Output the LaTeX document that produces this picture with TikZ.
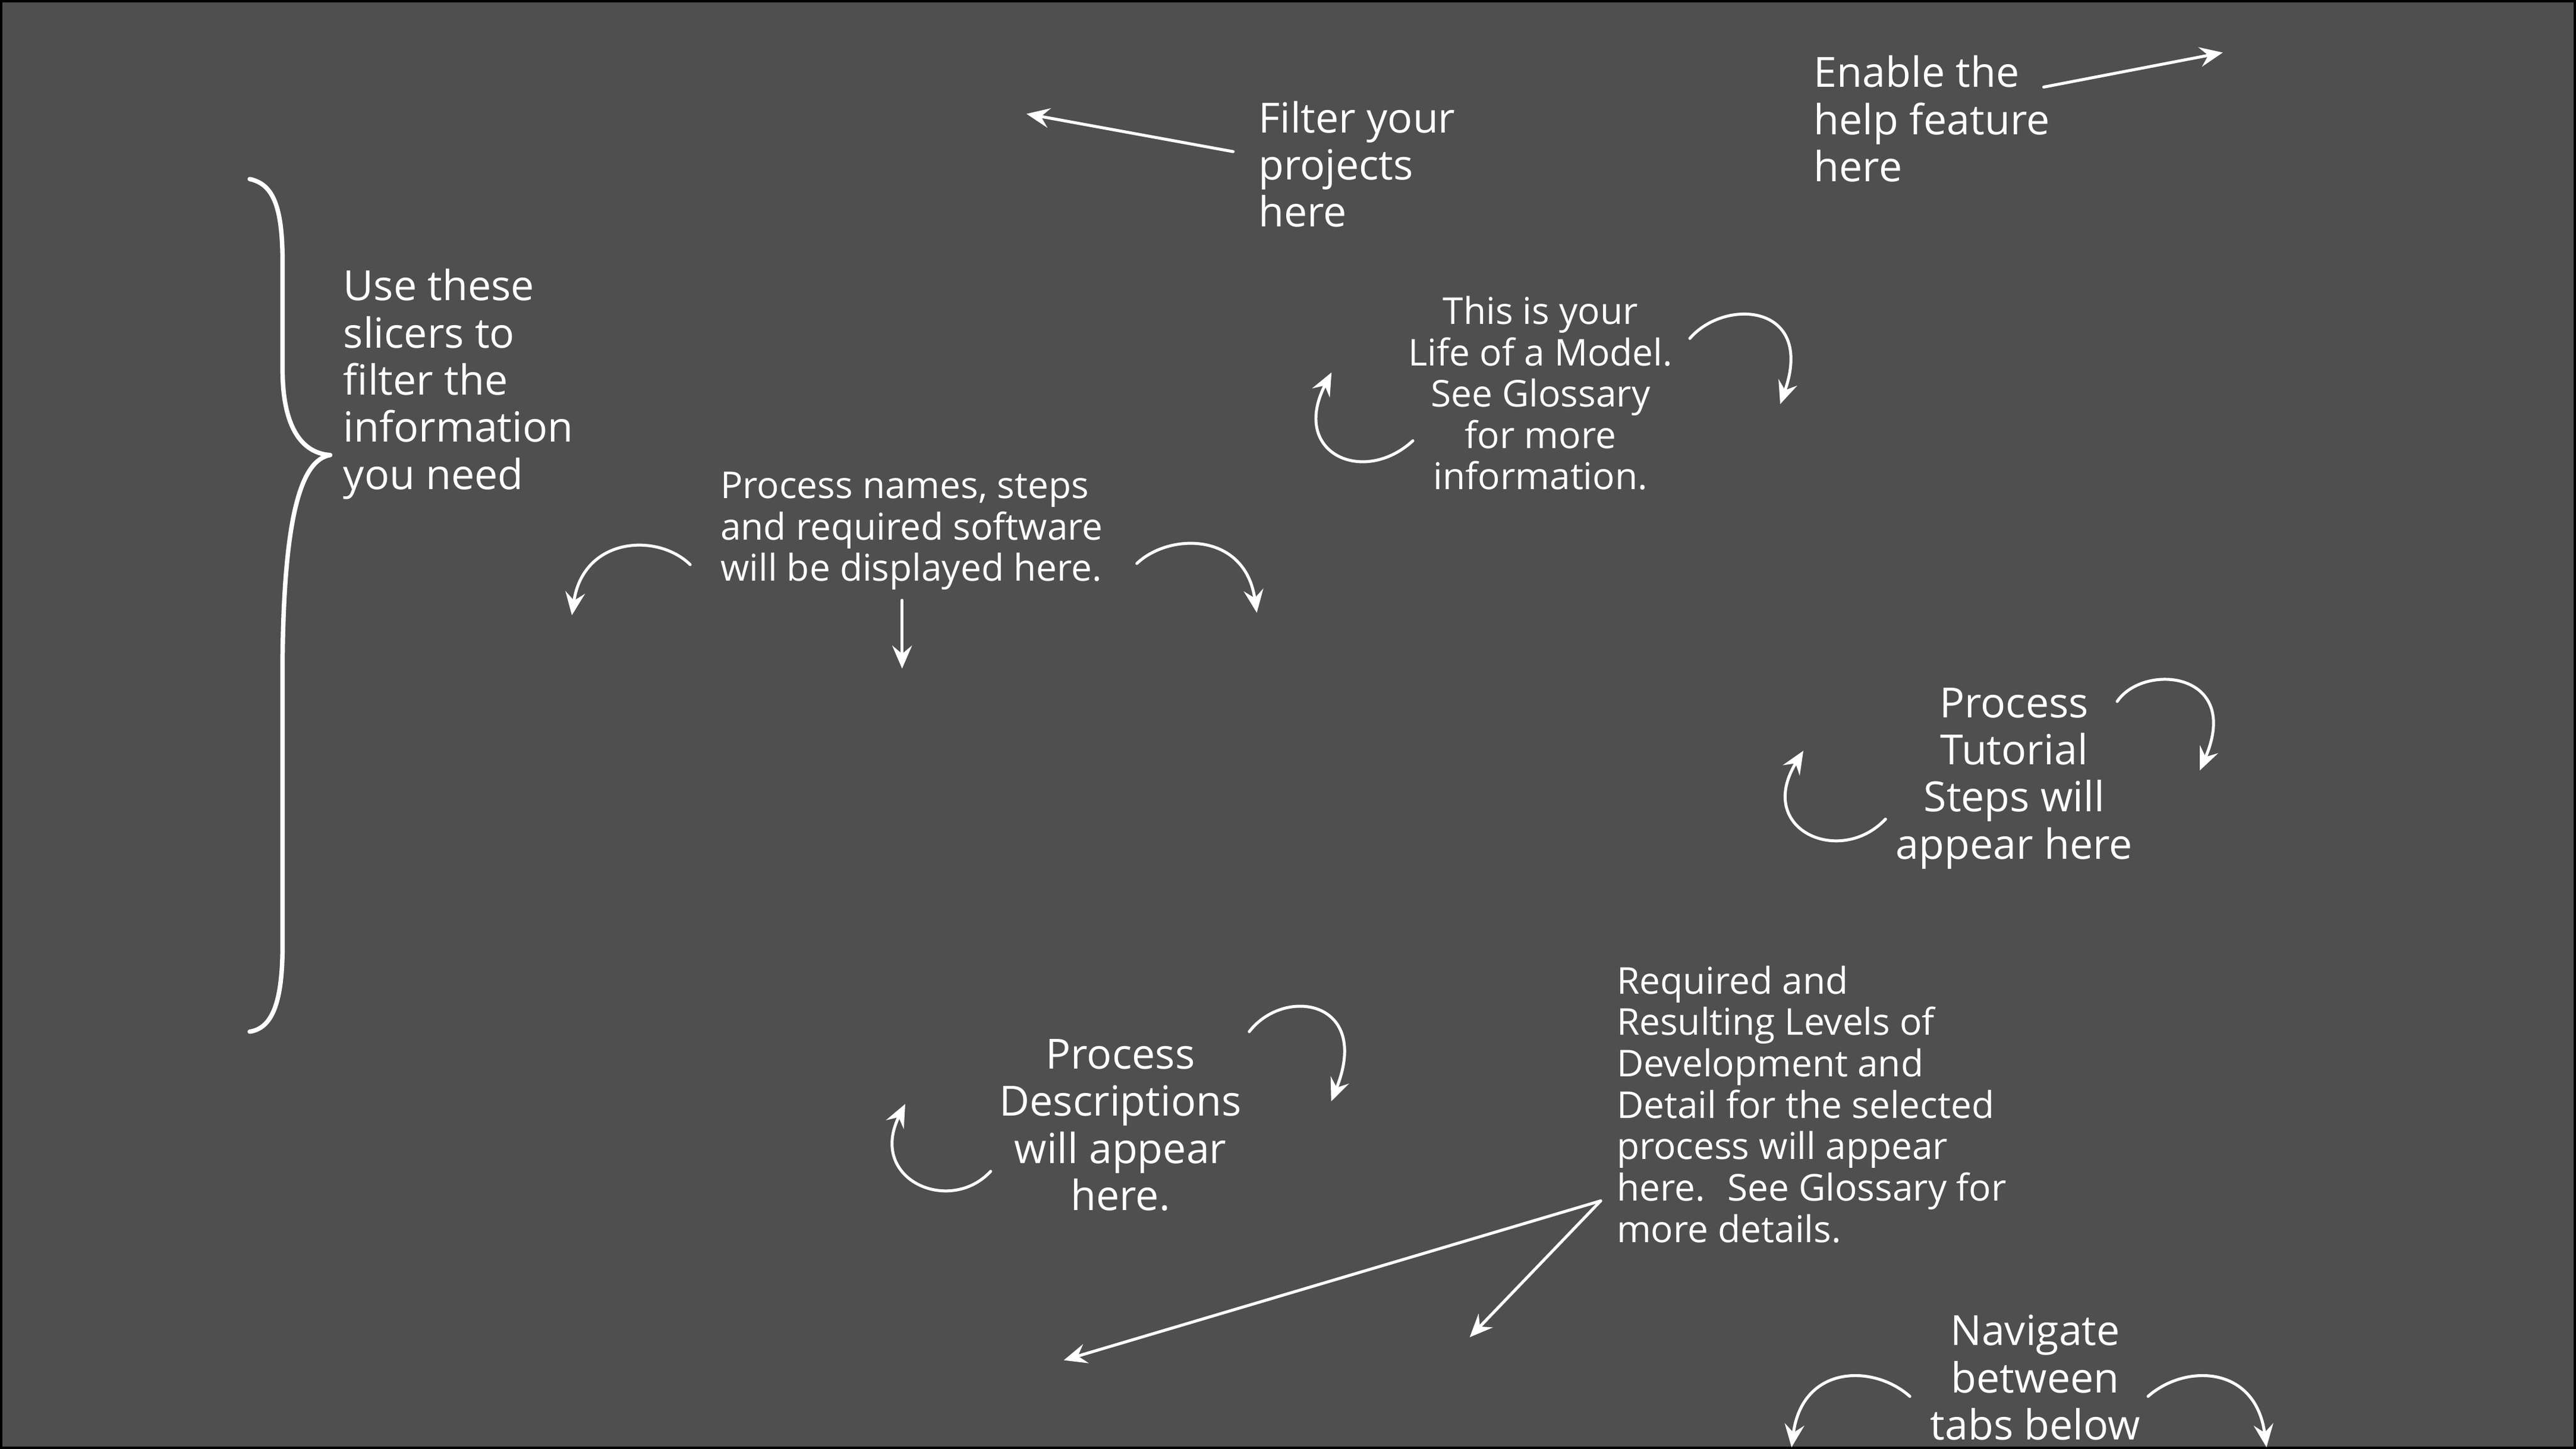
\documentclass[tikz,border=0pt]{standalone}
\usepackage{fontspec}
\setmainfont{Open Sans}
\usetikzlibrary{arrows.meta}
\definecolor{bg}{HTML}{4F4F4F}
\begin{document}
\begin{tikzpicture}[x=1mm,y=-1mm,
  bigtext/.style={font=\fontsize{72pt}{81.7pt}\selectfont, text=white, inner sep=0pt},
  smalltext/.style={font=\fontsize{64pt}{71.7pt}\selectfont, text=white, inner sep=0pt},
  arr/.style={draw=white, line width=1.8mm, line cap=round, -{Stealth[length=14mm,width=12mm,inset=5mm]}},
  bracestyle/.style={draw=white, line width=2.7mm, line cap=round, line join=round}
]
\useasboundingbox (0,0) rectangle (1568,882);
\fill[black] (0,0) rectangle (1568,882);
\fill[bg] (1.3,1.3) rectangle (1566.7,880.7);

% brace
\draw[bracestyle] (152,109) .. controls (166,112) and (172,125) .. (172,160) -- (172,225)
  .. controls (172,262) and (185,276) .. (201,277)
  .. controls (183,280) and (173,315) .. (172,400) -- (172,575)
  .. controls (172,612) and (165,626) .. (152,628);

% texts
\node[bigtext, anchor=north west, align=left] (filter) at (766,60.6) {\strut Filter your\\projects\\here};
\node[bigtext, anchor=north west, align=left] (enable) at (1104,33) {\strut Enable the\\help feature\\here};
\node[bigtext, anchor=north west, align=left] (slicers) at (209,162.8) {\strut Use these\\slicers to\\filter the\\information\\you need};
\node[smalltext, anchor=north west, align=left] (procnames) at (438.5,285.7) {\strut Process names, steps\\and required software\\will be displayed here.};
\node[smalltext, anchor=north, align=center] (lifemodel) at (937.7,179.6) {\strut This is your\\Life of a Model.\\See Glossary\\for more\\information.};
\node[bigtext, anchor=north, align=center] (tutorial) at (1226,416.6) {\strut Process\\Tutorial\\Steps will\\appear here};
\node[bigtext, anchor=north, align=center] (descr) at (682,630.5) {\strut Process\\Descriptions\\will appear\\here.};
\node[smalltext, anchor=north west, align=left] (levels) at (984,587.3) {\strut Required and\\Resulting Levels of\\Development and\\Detail for the selected\\process will appear\\here.~ See Glossary for\\more details.};
\node[bigtext, anchor=north, align=center] (navigate) at (1238.8,798.9) {\strut Navigate\\between\\tabs below};

% arrow end points
\coordinate (fs) at (750.6,92.3);  \coordinate (fe) at (624.8,69.3);
\coordinate (es) at (1244,53);     \coordinate (ee) at (1353,32);
\coordinate (pas) at (420.1,343.7); \coordinate (pae) at (348.1,374.5);
\coordinate (pbs) at (549.1,365.4); \coordinate (pbe) at (549.1,407);
\coordinate (pcs) at (692,343);    \coordinate (pce) at (765,373);
\coordinate (las) at (860,268.3);  \coordinate (lae) at (810.5,226.7);
\coordinate (lbs) at (1028.6,206); \coordinate (lbe) at (1083.6,246);
\coordinate (tas) at (1288.7,427); \coordinate (tae) at (1339,469);
\coordinate (tbs) at (1147.7,498.6); \coordinate (tbe) at (1097.7,457);
\coordinate (das) at (760.4,628);  \coordinate (dae) at (810.3,670.4);
\coordinate (dbs) at (603,713);    \coordinate (dbe) at (551,672);
\coordinate (rs) at (974.3,731);   \coordinate (rae) at (647.5,828); \coordinate (rbe) at (894.6,814);
\coordinate (nas) at (1162.5,850); \coordinate (nae) at (1090.5,881);
\coordinate (nbs) at (1307.5,850); \coordinate (nbe) at (1379.6,881);

% arrows
\draw[arr] (fs) -- (fe);
\draw[arr] (es) -- (ee);
\draw[arr] (pas) .. controls (400,324) and (355,327) .. (pae);
\draw[arr] (pbs) -- (pbe);
\draw[arr] (pcs) .. controls (712,324) and (758,324) .. (pce);
\draw[arr] (las) .. controls (830,296) and (785,276) .. (lae);
\draw[arr] (lbs) .. controls (1050,181) and (1105,185) .. (lbe);
\draw[arr] (tas) .. controls (1305,403) and (1365,409) .. (tae);
\draw[arr] (tbs) .. controls (1120,528) and (1068,505) .. (tbe);
\draw[arr] (das) .. controls (782,600) and (835,609) .. (dae);
\draw[arr] (dbs) .. controls (578,740) and (528,718) .. (dbe);
\draw[arr] (rs) -- (rae);
\draw[arr] (rs) -- (rbe);
\draw[arr] (nas) .. controls (1140,830) and (1097,831) .. (nae);
\draw[arr] (nbs) .. controls (1330,830) and (1373,831) .. (nbe);
\end{tikzpicture}
\end{document}
